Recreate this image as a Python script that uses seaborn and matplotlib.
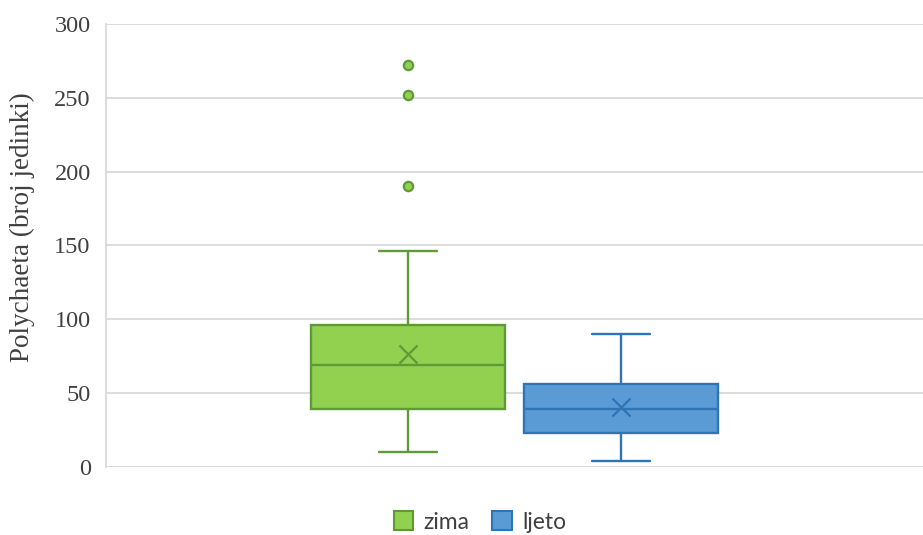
import numpy as np
import pandas as pd
import matplotlib
matplotlib.use("Agg")
import matplotlib.pyplot as plt
import seaborn as sns
from matplotlib.patches import Patch

# Data
zima = [10, 12, 14, 17, 19, 22, 25, 28, 31, 35,
        39, 41, 43, 46, 49, 52, 55, 58, 62, 66,
        69, 71, 73, 75, 78, 80, 83, 86, 89, 93,
        96, 100, 103, 106, 110, 116, 125, 146,
        190, 252, 272]
ljeto = [4, 8, 12, 16, 20, 23, 26, 30, 33, 36, 39,
         42, 45, 48, 52, 56, 60, 62, 68, 75, 90]
seasons = ["zima", "ljeto"]
fills = {"zima": "#92D050", "ljeto": "#5B9BD5"}
edges = {"zima": "#5E9A38", "ljeto": "#2E75B6"}
yticks = [0, 50, 100, 150, 200, 250, 300]
ylabel = "Polychaeta (broj jedinki)"

df = pd.DataFrame({
    "val": zima + ljeto,
    "season": ["zima"] * len(zima) + ["ljeto"] * len(ljeto),
    "grp": [""] * (len(zima) + len(ljeto)),
})

sns.set_theme(style="white")
plt.rcParams["font.family"] = ["Liberation Serif", "DejaVu Serif"]

fig = plt.figure(figsize=(9.23, 5.35), dpi=100)
ax = fig.add_axes([106 / 923, 1 - 466.7 / 535, 1 - 106 / 923, (466.7 - 24) / 535])

sns.boxplot(data=df, x="grp", y="val", hue="season", hue_order=seasons,
            palette=fills, width=0.521, gap=0.089, whis=1.5,
            linewidth=1.7, fliersize=0, legend=False, ax=ax)

for i, s in enumerate(seasons):
    patch = ax.patches[i]
    patch.set_edgecolor(edges[s])
    patch.set_facecolor(fills[s])
for line in ax.lines:
    xd = np.asarray(line.get_xdata(), dtype=float)
    if xd.size == 0:
        continue
    s = "zima" if xd.mean() < 0 else "ljeto"
    line.set_color(edges[s])

# shrink caps
box_w = 0.521 / 2 * (1 - 0.089)
for line in ax.lines:
    xd = np.asarray(line.get_xdata(), dtype=float)
    yd = np.asarray(line.get_ydata(), dtype=float)
    if xd.size == 2 and yd[0] == yd[1]:
        w = abs(xd[1] - xd[0])
        if w < box_w * 0.9:
            c = xd.mean()
            half = box_w * 0.295 / 2
            line.set_xdata([c - half, c + half])

offs = {"zima": -0.1303, "ljeto": 0.1303}
for s, vals in (("zima", zima), ("ljeto", ljeto)):
    v = np.asarray(vals, dtype=float)
    q1, q3 = np.percentile(v, [25, 75])
    iqr = q3 - q1
    out = v[(v > q3 + 1.5 * iqr) | (v < q1 - 1.5 * iqr)]
    ax.scatter([offs[s]] * len(out), out, s=45, facecolor=fills[s],
               edgecolor=edges[s], linewidth=1.6, zorder=5)
    ax.scatter([offs[s]], [v.mean()], marker="x", s=170, color=edges[s],
               linewidth=1.6, zorder=5)

ax.set_xlim(-0.5, 0.5)
ax.set_ylim(0, 300)
ax.set_yticks(yticks)
ax.set_yticklabels([str(t) for t in yticks], fontsize=17.5, color="#404040")
ax.set_xticks([])
ax.set_xlabel("")
ax.set_ylabel(ylabel, fontsize=19.5, color="#404040")
ax.yaxis.set_label_coords(-0.087, (466.7 - 227) / 442.7)
ax.yaxis.grid(True, color="#D9D9D9", linewidth=1.3)
ax.set_axisbelow(True)
for sp in ["top", "right", "bottom"]:
    ax.spines[sp].set_visible(False)
ax.spines["left"].set_color("#D9D9D9")
ax.spines["left"].set_linewidth(1.3)
ax.tick_params(axis="y", length=0, pad=11)

handles = [Patch(facecolor=fills[s], edgecolor=edges[s], linewidth=1.5, label=s)
           for s in seasons]
fig.legend(handles=handles, loc="center", bbox_to_anchor=(480 / 923, 1 - 522 / 535),
           ncol=2, frameon=False, handlelength=0.85, handleheight=0.85,
           handletextpad=0.45, columnspacing=1.0,
           prop={"family": "Lato", "size": 16.5})
for t in fig.legends[0].get_texts():
    t.set_color("#404040")

fig.savefig("out.png", dpi=100)
